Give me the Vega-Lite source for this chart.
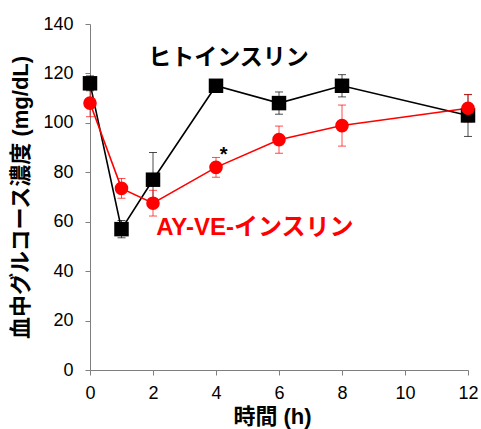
{
  "$schema": "https://vega.github.io/schema/vega-lite/v6.json",
  "width": 378,
  "height": 346,
  "autosize": "none",
  "padding": {"left": 90, "top": 24, "right": 13, "bottom": 59},
  "background": "white",
  "config": {
    "font": "Liberation Sans, Noto Sans CJK JP",
    "view": {"stroke": null},
    "axis": {
      "grid": false,
      "domainColor": "#7f7f7f",
      "tickColor": "#7f7f7f",
      "labelColor": "#000000",
      "labelFontSize": 18,
      "titleFontWeight": "bold",
      "titleColor": "#000000",
      "tickSize": 5,
      "labelFlush": false
    }
  },
  "datasets": {
    "glucose": [
      {"series": "ヒトインスリン", "time": 0, "value": 116, "lo": 113, "hi": 119},
      {"series": "ヒトインスリン", "time": 1, "value": 57, "lo": 53.5, "hi": 60.5},
      {"series": "ヒトインスリン", "time": 2, "value": 77, "lo": 66, "hi": 88},
      {"series": "ヒトインスリン", "time": 4, "value": 115, "lo": 113.5, "hi": 116.5},
      {"series": "ヒトインスリン", "time": 6, "value": 108, "lo": 103.5, "hi": 112.5},
      {"series": "ヒトインスリン", "time": 8, "value": 115, "lo": 110.5, "hi": 119.5},
      {"series": "ヒトインスリン", "time": 12, "value": 103, "lo": 94.5, "hi": 111.5},
      {"series": "AY-VE-インスリン", "time": 0, "value": 108, "lo": 102.5, "hi": 113.5},
      {"series": "AY-VE-インスリン", "time": 1, "value": 73.5, "lo": 69.5, "hi": 77.5},
      {"series": "AY-VE-インスリン", "time": 2, "value": 67.5, "lo": 62.3, "hi": 72.7},
      {"series": "AY-VE-インスリン", "time": 4, "value": 82, "lo": 78, "hi": 86},
      {"series": "AY-VE-インスリン", "time": 6, "value": 93.2, "lo": 87.7, "hi": 98.7},
      {"series": "AY-VE-インスリン", "time": 8, "value": 98.9, "lo": 90.6, "hi": 107.2},
      {"series": "AY-VE-インスリン", "time": 12, "value": 105.9, "lo": 100.4, "hi": 111.4}
    ],
    "labels": [
      {"text": "ヒトインスリン", "time": 1.85, "value": 126.3, "series": "ヒトインスリン", "size": 23},
      {"text": "AY-VE-インスリン", "time": 2.1, "value": 57.5, "series": "AY-VE-インスリン", "size": 24},
      {"text": "*", "time": 4.12, "value": 87, "series": "ヒトインスリン", "size": 20}
    ]
  },
  "layer": [
    {
      "data": {"name": "glucose"},
      "mark": {"type": "rule", "strokeWidth": 1, "opacity": 0.7},
      "encoding": {
        "x": {"field": "time", "type": "quantitative"},
        "y": {"field": "lo", "type": "quantitative"},
        "y2": {"field": "hi"},
        "color": {"field": "series", "type": "nominal", "scale": {"domain": ["ヒトインスリン", "AY-VE-インスリン"], "range": ["#000000", "#ff0000"]}, "legend": null}
      }
    },
    {
      "data": {"name": "glucose"},
      "mark": {"type": "tick", "orient": "horizontal", "size": 8, "thickness": 1, "opacity": 0.7},
      "encoding": {
        "x": {"field": "time", "type": "quantitative"},
        "y": {"field": "lo", "type": "quantitative"},
        "color": {"field": "series", "type": "nominal", "legend": null}
      }
    },
    {
      "data": {"name": "glucose"},
      "mark": {"type": "tick", "orient": "horizontal", "size": 8, "thickness": 1, "opacity": 0.7},
      "encoding": {
        "x": {"field": "time", "type": "quantitative"},
        "y": {"field": "hi", "type": "quantitative"},
        "color": {"field": "series", "type": "nominal", "legend": null}
      }
    },
    {
      "data": {"name": "glucose"},
      "mark": {"type": "line", "strokeWidth": 1.6},
      "encoding": {
        "x": {
          "field": "time", "type": "quantitative",
          "scale": {"domain": [0, 12], "nice": false},
          "axis": {"values": [0, 2, 4, 6, 8, 10, 12], "title": "時間 (h)", "titleFontSize": 22, "titlePadding": 4, "labelPadding": 9, "titleX": 182}
        },
        "y": {
          "field": "value", "type": "quantitative",
          "scale": {"domain": [0, 140], "nice": false},
          "axis": {"values": [0, 20, 40, 60, 80, 100, 120, 140], "title": "血中グルコース濃度 (mg/dL)", "titleFontSize": 22, "titlePadding": 10, "labelPadding": 12}
        },
        "color": {"field": "series", "type": "nominal", "legend": null},
        "detail": {"field": "series"}
      }
    },
    {
      "data": {"name": "glucose"},
      "mark": {"type": "point", "filled": true, "opacity": 1},
      "encoding": {
        "x": {"field": "time", "type": "quantitative"},
        "y": {"field": "value", "type": "quantitative"},
        "color": {"field": "series", "type": "nominal", "legend": null},
        "shape": {"field": "series", "type": "nominal", "scale": {"domain": ["ヒトインスリン", "AY-VE-インスリン"], "range": ["square", "circle"]}, "legend": null},
        "size": {"field": "series", "type": "nominal", "scale": {"domain": ["ヒトインスリン", "AY-VE-インスリン"], "range": [210, 185]}, "legend": null}
      }
    },
    {
      "data": {"name": "labels"},
      "mark": {"type": "text", "align": "left", "baseline": "middle", "fontWeight": "bold"},
      "encoding": {
        "x": {"field": "time", "type": "quantitative"},
        "y": {"field": "value", "type": "quantitative"},
        "text": {"field": "text"},
        "size": {"field": "size", "type": "quantitative", "scale": null},
        "color": {"field": "series", "type": "nominal", "legend": null}
      }
    }
  ]
}
